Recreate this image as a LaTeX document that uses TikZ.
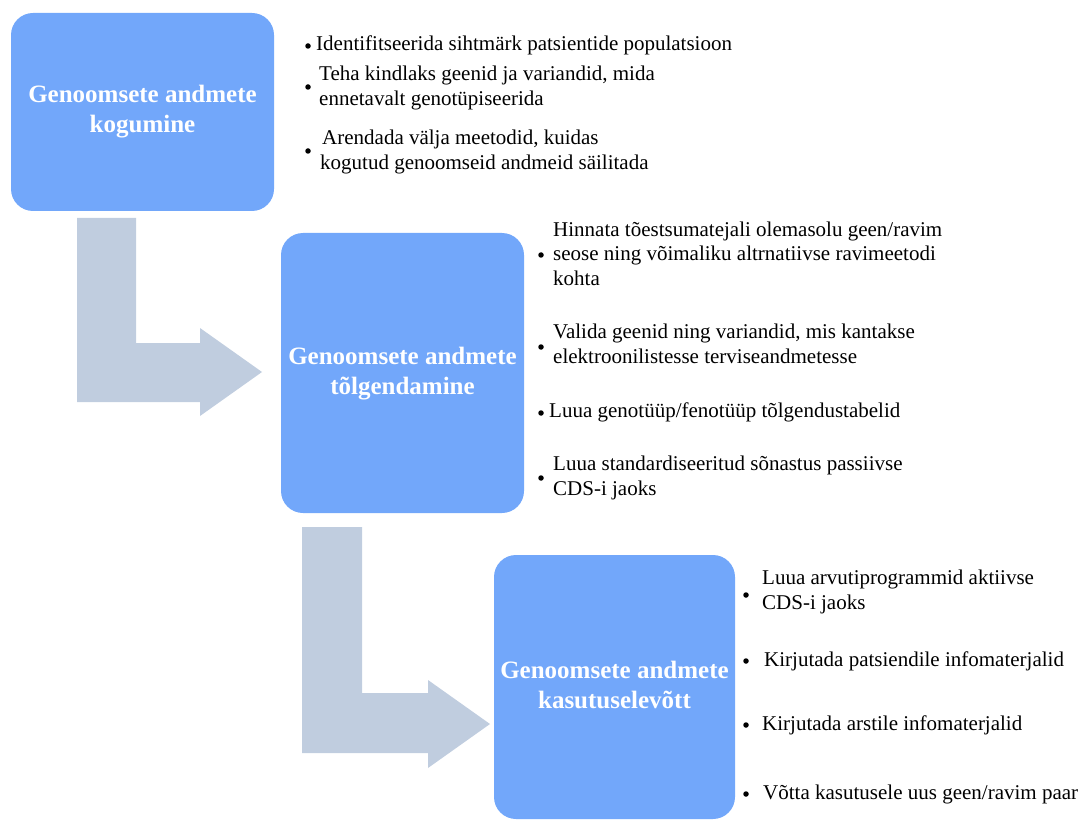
\documentclass[tikz,border=0pt]{standalone}
\usepackage{fontspec}
\setmainfont{Liberation Serif}

\definecolor{boxblue}{HTML}{72A7FA}
\definecolor{arrowgrey}{HTML}{C0CDDF}

\tikzset{
    phasebox/.style={fill=boxblue, rounded corners=22pt, text=white, align=center,
        inner sep=0pt, font=\fontsize{25}{30}\selectfont\bfseries},
    itemtext/.style={anchor=west, align=left, inner sep=0pt,
        font=\fontsize{21}{25}\selectfont},
    itemdot/.style={circle, fill=black, inner sep=0pt, minimum size=5.5pt},
    bentarrow/.style={fill=arrowgrey},
}

\begin{document}
\begin{tikzpicture}[x=1pt, y=-1pt]
        \useasboundingbox (0,0) rectangle (1082,821);

        % bent arrows
        \fill[bentarrow] (77,218) -- (136,218) -- (136,343) -- (200,343) -- (200,328)
            -- (262,372) -- (200,416) -- (200,402) -- (77,402) -- cycle;
        \fill[bentarrow] (302,527) -- (362,527) -- (362,693) -- (428,693) -- (428,680)
            -- (490,724) -- (428,768) -- (428,753) -- (302,753) -- cycle;

        % place boxes
        \node[phasebox, minimum width=263pt, minimum height=198pt] at (142.5,112) (kogumine)
            {\strut Genoomsete andmete\\kogumine\strut};
        \node[phasebox, minimum width=243pt, minimum height=280pt] at (402.5,373) (tolgendamine)
            {\strut Genoomsete andmete\\tõlgendamine\strut};
        \node[phasebox, minimum width=241pt, minimum height=264pt] at (614.5,687) (kasutus)
            {\strut Genoomsete andmete\\kasutuselevõtt\strut};

        % bullets of the first box
        \node[itemdot] at (308,46)  (kb1) {};
        \node[itemdot] at (308,87)  (kb2) {};
        \node[itemdot] at (308,151) (kb3) {};
        \node[itemtext] at (316,46)  (k1) {\strut Identifitseerida sihtmärk patsientide populatsioon};
        \node[itemtext] at (319,88)  (k2) {\strut Teha kindlaks geenid ja variandid, mida\\ennetavalt genotüpiseerida\strut};
        \node[itemtext] at (320,152) (k3) {\strut\hspace{2pt}Arendada välja meetodid, kuidas\\kogutud genoomseid andmeid säilitada\strut};

        % bullets of the second box
        \node[itemdot] at (541,255) (tb1) {};
        \node[itemdot] at (541,347) (tb2) {};
        \node[itemdot] at (541,413) (tb3) {};
        \node[itemdot] at (541,478) (tb4) {};
        \node[itemtext] at (553,256) (t1) {\strut Hinnata tõestsumatejali olemasolu geen/ravim\\seose ning võimaliku altrnatiivse ravimeetodi\\kohta\strut};
        \node[itemtext] at (553,346) (t2) {\strut Valida geenid ning variandid, mis kantakse\\elektroonilistesse terviseandmetesse\strut};
        \node[itemtext] at (549,412.5) (t3) {\strut Luua genotüüp/fenotüüp tõlgendustabelid};
        \node[itemtext] at (553,477.5) (t4) {\strut Luua standardiseeritud sõnastus passiivse\\CDS-i jaoks\strut};

        % bullets of the third box
        \node[itemdot] at (746,595) (ub1) {};
        \node[itemdot] at (746,661) (ub2) {};
        \node[itemdot] at (746,725) (ub3) {};
        \node[itemdot] at (746,794) (ub4) {};
        \node[itemtext] at (762,592) (u1) {\strut Luua arvutiprogrammid aktiivse\\CDS-i jaoks\strut};
        \node[itemtext] at (764,661) (u2) {\strut Kirjutada patsiendile infomaterjalid};
        \node[itemtext] at (762,725) (u3) {\strut Kirjutada arstile infomaterjalid};
        \node[itemtext] at (763,794) (u4) {\strut Võtta kasutusele uus geen/ravim paar};
\end{tikzpicture}
\end{document}
